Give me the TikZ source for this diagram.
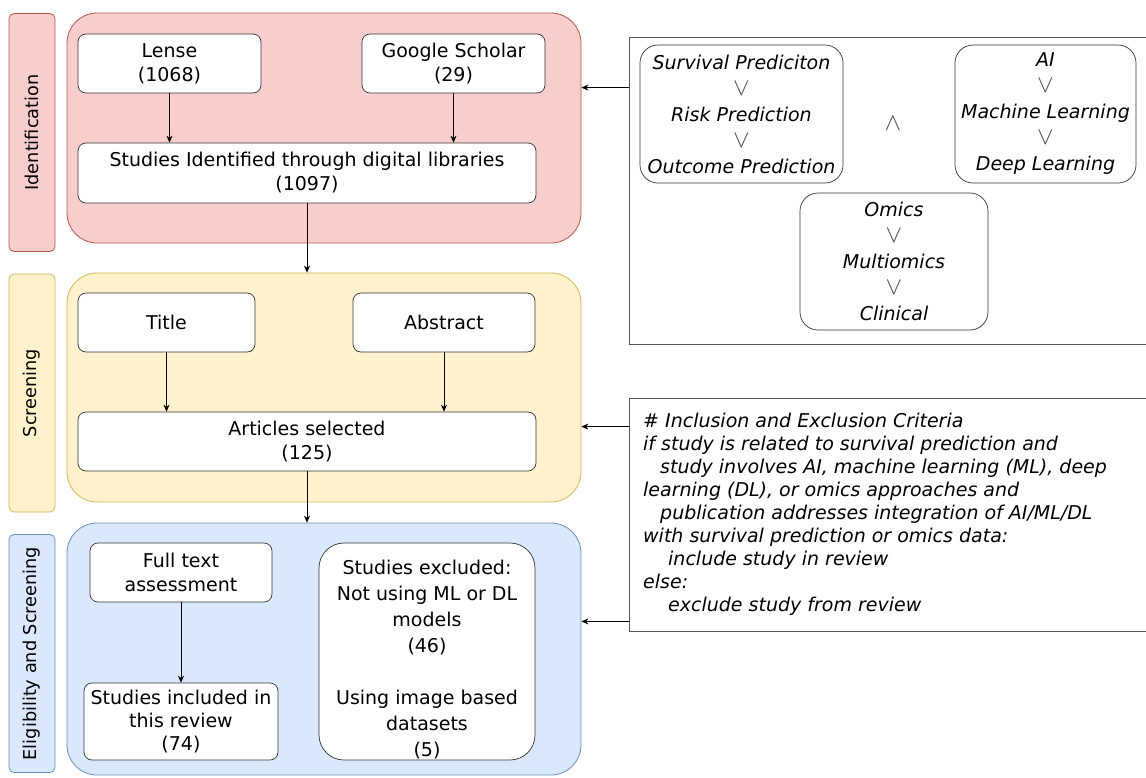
\documentclass[tikz,border=0pt]{standalone}
\usepackage{fontspec}
\setmainfont{DejaVu Sans}
\usetikzlibrary{arrows.meta,positioning,calc}
\definecolor{pinkF}{HTML}{F8CECC}\definecolor{pinkD}{HTML}{B85450}
\definecolor{yelF}{HTML}{FFF2CC}\definecolor{yelD}{HTML}{D6B656}
\definecolor{bluF}{HTML}{DAE8FC}\definecolor{bluD}{HTML}{6C8EBF}
\definecolor{grayD}{HTML}{555555}
\tikzset{
  lab/.style={draw=#1D, fill=#1F, rounded corners=5pt, minimum width=46pt, minimum height=238pt, inner sep=0pt, line width=0.8pt},
  phase/.style={draw=#1D, fill=#1F, rounded corners=30pt, minimum width=514pt, inner sep=0pt, line width=0.8pt},
  stepbox/.style={draw=black!80, fill=white, rounded corners=8pt, align=center, inner sep=0pt, line width=0.7pt, font=\fontsize{19}{24}\selectfont},
  kwbox/.style={draw=black!80, fill=white, rounded corners=18pt, align=center, inner sep=0pt, line width=0.7pt, font=\fontsize{19}{26}\selectfont\itshape},
  outer/.style={draw=grayD, fill=white, minimum width=519pt, inner sep=0pt, line width=0.8pt},
  arr/.style={-{Stealth[length=7pt,width=6pt]}, line width=0.7pt, black},
  rot/.style={rotate=90, font=\fontsize{17.7}{20}\selectfont},
}
\newcommand{\orsym}{{\fontsize{23}{26}\selectfont\color{black!70}$\vee$}}
\begin{document}
\begin{tikzpicture}[x=1pt,y=-1pt]
\useasboundingbox (0,0) rectangle (1146,777);
\clip (0,0) rectangle (1146,777);
% phase labels
\node[lab=pink] (identlab) at (32,132.5) {};
\node[rot] at (identlab) {Identification};
\node[lab=yel] (screenlab) at (32,393) {};
\node[rot] at (screenlab) {Screening};
\node[lab=blu] (eliglab) at (32,653.5) {};
\node[rot] at (eliglab) {Eligibility and Screening};
% phase boxes
\node[phase=pink, minimum height=230pt] (ident) at (324,128) {};
\node[phase=yel, minimum height=229pt] (screen) at (324,387.5) {};
\node[phase=blu, minimum height=252pt] (elig) at (324,649) {};
% identification
\node[stepbox, minimum width=183pt, minimum height=59pt] (lense) at (169.5,63.5) {Lense\\(1068)};
\node[stepbox, minimum width=183pt, minimum height=59pt] (google) at (453.5,63.5) {Google Scholar\\(29)};
\node[stepbox, minimum width=458pt, minimum height=60pt] (studid) at (307,173) {Studies Identified through digital libraries\\(1097)};
% screening
\node[stepbox, minimum width=177pt, minimum height=59pt] (title) at (166.5,322.5) {Title};
\node[stepbox, minimum width=182pt, minimum height=59pt] (abstract) at (444,322.5) {Abstract};
\node[stepbox, minimum width=458pt, minimum height=59pt] (articles) at (307,441.5) {Articles selected\\(125)};
% eligibility
\node[stepbox, minimum width=182pt, minimum height=59pt] (fulltext) at (181,572.5) {Full text\\assessment};
\node[stepbox, minimum width=194pt, minimum height=77pt, font=\fontsize{19}{23}\selectfont] (included) at (181,721.5) {Studies included in\\this review\\(74)};
\node[stepbox, rounded corners=25pt, minimum width=216pt, minimum height=217pt] (excluded) at (427,651.5) {};
\node[align=center, inner sep=0pt, font=\fontsize{19}{26}\selectfont] (exctext) at ([yshift=-8pt]excluded.center) {Studies excluded:\\Not using ML or DL\\models\\(46)\\[26pt]Using image based\\datasets\\(5)};
% arrows
\draw[arr] (lense.south) -- (lense.south |- studid.north);
\draw[arr] (google.south) -- (google.south |- studid.north);
\draw[arr] (studid.south) -- (studid.south |- screen.north);
\draw[arr] (title.south) -- (title.south |- articles.north);
\draw[arr] (abstract.south) -- (abstract.south |- articles.north);
\draw[arr] (articles.south) -- (articles.south |- elig.north);
\draw[arr] (fulltext.south) -- (fulltext.south |- included.north);
% keyword box
\node[outer, minimum height=307pt] (kw) at (888.5,190.5) {};
\node[kwbox, minimum width=203pt, minimum height=138pt] (surv) at (741.5,114) {Survival Prediciton\\\orsym\\Risk Prediction\\\orsym\\Outcome Prediction};
\node[kwbox, minimum width=181pt, minimum height=138pt] (ai) at (1045.5,114) {AI\\\orsym\\Machine Learning\\\orsym\\Deep Learning};
\node[kwbox, minimum width=188pt, minimum height=137pt] (omics) at (894,261.5) {Omics\\\orsym\\Multiomics\\\orsym\\Clinical};
\node[font=\fontsize{23}{26}\selectfont, text=black!70] (and) at (893,124) {$\wedge$};
% criteria box
\node[outer, minimum height=233pt] (crit) at (888.5,514.5) {};
\node[anchor=north west, inner sep=0pt, align=left, font=\fontsize{19}{23}\selectfont\itshape] (crittext) at (643,413) {\# Inclusion and Exclusion Criteria\\
if study is related to survival prediction and\\
\hspace*{17pt}study involves AI, machine learning (ML), deep\\
learning (DL), or omics approaches and\\
\hspace*{17pt}publication addresses integration of AI/ML/DL\\
with survival prediction or omics data:\\
\hspace*{25pt}include study in review\\
else:\\
\hspace*{25pt}exclude study from review};
% side arrows
\draw[arr] ([yshift=-51pt]kw.north west) -- ([yshift=-51pt]kw.north west -| ident.east);
\draw[arr] ([yshift=-29pt]crit.north west) -- ([yshift=-29pt]crit.north west -| screen.east);
\draw[arr] ([yshift=10pt]crit.south west) -- ([yshift=10pt]crit.south west -| elig.east);
\end{tikzpicture}
\end{document}
